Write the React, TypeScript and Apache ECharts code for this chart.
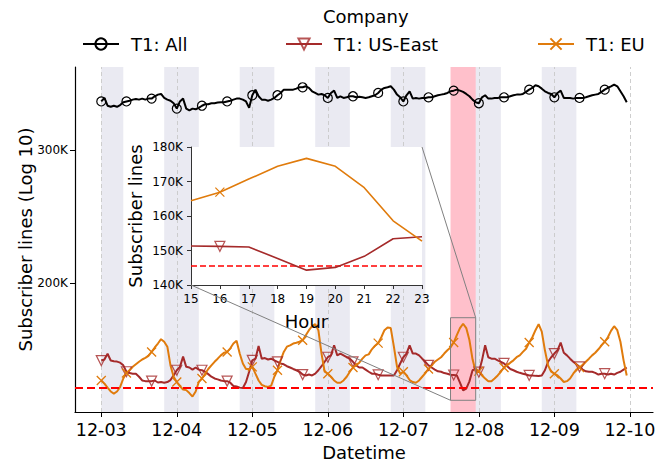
import React, { useEffect, useRef } from "react";
import * as echarts from "echarts";

// ---------- data ----------
const dayLabels = ["12-03", "12-04", "12-05", "12-06", "12-07", "12-08", "12-09", "12-10"];
const hoursPerDay = 24;

// hourly values (thousands of subscriber lines), starting 12-03 00:00
const allK = [
  347.6, 351.3, 343.1, 342.0, 343.1, 342.0, 343.8, 346.8,
  347.6, 348.4, 349.5, 350.2, 349.5, 350.6, 349.5, 350.6,
  350.6, 353.1, 354.9, 355.6, 351.3, 349.5, 348.4, 345.7,
  340.1, 347.6, 350.6, 340.1, 338.3, 340.1, 339.4, 340.9,
  343.1, 344.6, 344.6, 345.7, 345.7, 346.4, 346.8, 346.8,
  347.6, 348.4, 349.5, 350.6, 350.6, 349.5, 347.6, 340.9,
  354.2, 360.3, 353.1, 349.5, 349.5, 348.4, 349.5, 351.3,
  354.2, 356.7, 360.3, 360.3, 360.3, 360.3, 361.4, 362.9,
  362.9, 364.0, 362.2, 358.5, 356.7, 354.9, 355.6, 354.2,
  351.3, 356.7, 359.2, 351.3, 353.1, 351.3, 352.0, 353.1,
  353.1, 352.0, 352.7, 352.0, 351.3, 352.0, 353.1, 354.2,
  356.7, 360.3, 362.2, 362.9, 364.0, 360.3, 354.9, 352.0,
  347.6, 354.2, 358.5, 350.6, 351.3, 350.6, 351.3, 351.3,
  352.0, 352.0, 353.1, 354.2, 354.9, 355.6, 356.7, 358.5,
  359.2, 360.3, 359.2, 357.8, 355.6, 353.1, 349.5, 346.8,
  345.7, 352.0, 354.2, 350.6, 350.6, 351.3, 351.3, 352.0,
  352.0, 352.0, 353.1, 354.2, 354.9, 354.9, 355.6, 357.8,
  360.3, 362.2, 365.2, 364.0, 361.4, 358.5, 356.7, 355.6,
  352.0, 356.7, 359.2, 351.3, 351.3, 351.3, 350.6, 351.3,
  351.3, 351.3, 352.0, 353.1, 354.2, 354.9, 355.6, 357.8,
  360.3, 362.2, 364.0, 365.9, 364.0, 358.5, 353.1, 346.8,
];

const usEastK = [
  158.0, 158.5, 161.3, 158.0, 157.7, 157.5, 157.0, 155.7,
  152.7, 152.1, 151.8, 151.8, 150.4, 148.7, 148.4, 148.4,
  148.4, 148.7, 147.8, 148.0, 147.7, 148.0, 148.9, 151.0,
  153.4, 155.0, 159.9, 155.0, 154.7, 153.7, 154.7, 153.7,
  153.4, 152.7, 151.6, 150.4, 149.6, 149.2, 148.7, 148.4,
  148.4, 147.7, 146.2, 146.0, 145.5, 145.3, 148.0, 152.7,
  158.1, 158.9, 165.1, 158.9, 159.2, 158.5, 158.9, 158.1,
  157.4, 156.6, 156.2, 155.3, 154.7, 154.0, 153.4, 152.7,
  151.4, 151.0, 151.4, 151.0, 151.8, 153.4, 155.3, 157.4,
  159.6, 160.5, 165.5, 160.5, 161.4, 160.5, 159.6, 158.9,
  157.4, 155.7, 154.7, 154.7, 153.7, 152.7, 151.8, 151.8,
  151.3, 151.0, 151.0, 151.0, 151.0, 151.0, 153.4, 156.6,
  159.6, 161.4, 165.5, 161.4, 161.4, 160.5, 158.9, 157.4,
  155.7, 154.7, 153.7, 152.9, 152.7, 152.1, 151.8, 151.3,
  151.2, 151.0, 147.7, 144.3, 145.1, 148.3, 153.4, 154.0,
  152.5, 158.1, 165.5, 159.6, 158.9, 158.9, 158.1, 157.4,
  156.6, 155.3, 154.0, 153.4, 152.7, 152.2, 151.8, 151.4,
  151.0, 151.0, 150.8, 150.7, 151.0, 153.4, 157.4, 159.6,
  161.4, 163.0, 166.9, 161.8, 160.5, 158.9, 157.4, 156.2,
  155.0, 153.7, 152.9, 152.7, 152.7, 152.2, 151.4, 151.8,
  151.8, 151.4, 151.8, 151.4, 152.2, 152.7, 153.7, 154.7,
];

const euK = [
  148.7, 147.3, 145.5, 143.8, 142.9, 143.8, 145.8, 149.6,
  152.1, 153.4, 155.0, 156.2, 157.4, 158.5, 159.3, 160.3,
  162.2, 164.4, 166.4, 168.6, 167.3, 164.8, 155.7, 150.4,
  148.0, 146.1, 144.7, 144.4, 143.1, 141.6, 143.8, 148.0,
  149.6, 151.8, 154.0, 155.7, 157.4, 158.9, 160.5, 161.8,
  162.2, 164.0, 166.4, 167.8, 161.4, 156.6, 154.0, 154.0,
  155.0, 151.8, 148.7, 146.7, 146.1, 145.8, 146.4, 150.4,
  153.4, 158.1, 162.2, 164.8, 165.5, 166.4, 166.8, 167.3,
  168.1, 170.6, 173.3, 175.4, 176.5, 173.3, 161.4, 152.7,
  151.8, 150.4, 148.7, 147.7, 147.7, 148.7, 150.4, 152.7,
  154.7, 155.7, 157.0, 158.9, 160.5, 161.0, 163.5, 165.3,
  166.6, 169.6, 173.3, 174.7, 174.4, 164.8, 155.0, 151.8,
  152.7, 151.0, 148.9, 148.0, 147.7, 148.7, 150.4, 152.1,
  154.0, 155.7, 157.4, 158.5, 159.6, 161.4, 163.0, 164.4,
  166.9, 170.7, 174.4, 176.7, 174.4, 168.2, 158.6, 152.7,
  153.0, 151.0, 149.6, 148.4, 148.4, 149.6, 151.0, 152.7,
  154.7, 155.7, 157.0, 158.1, 159.6, 160.5, 162.2, 163.8,
  166.9, 169.6, 173.3, 176.5, 172.5, 163.0, 155.7, 152.7,
  151.8, 151.0, 149.6, 148.0, 148.4, 149.6, 151.8, 153.7,
  154.7, 155.7, 157.4, 158.9, 160.5, 161.8, 163.5, 165.5,
  167.3, 169.6, 172.9, 175.4, 173.3, 167.3, 158.1, 151.0,
];

const thresholdK = 145.6;
const nightStarts = [0, 20, 44, 68, 92, 116, 140];
const nightEnds = [7, 31, 55, 79, 103, 127, 151];
const zoomStartHour = 111;
const zoomEndHour = 119;
const zoomLowK = 140;
const zoomHighK = 180;
const mainYTicksK = [200, 300];
const markerEvery = 8;

// ---------- styling ----------
const FONT = "DejaVu Sans";
const C_ALL = "#000000";
const C_US = "#a52a2a";
const C_EU = "#e07b0c";
const SYM_DOWN = "path://M0,0L10,0L5,8.66Z";
const SYM_X = "path://M0,0L10,10M10,0L0,10";

const K = (v: number) => v * 1000;

export default function App() {
  const ref = useRef<HTMLDivElement>(null);

  useEffect(() => {
    if (!ref.current) return;
    const chart = echarts.init(ref.current, null, { renderer: "svg" });

    const hours = allK.map((_, i) => i);
    const dayTicks = dayLabels.map((_, i) => i * hoursPerDay);
    const insetIdx: number[] = [];
    for (let h = zoomStartHour; h <= zoomEndHour; h++) insetIdx.push(h);

    const mainSym = (size: number) => (_v: any, p: any) =>
      p.dataIndex % markerEvery === 0 ? size : 0;
    const insetSym = (size: number) => (_v: any, p: any) =>
      (insetIdx[p.dataIndex] % markerEvery === 0 ? size : 0);

    const legendBase = {
      top: 35,
      padding: 0,
      itemWidth: 36,
      itemHeight: 14,
      selectedMode: false,
      textStyle: { fontSize: 18, color: "#000", fontFamily: FONT, padding: [0, 0, 0, 7] },
    };

    const option: any = {
      animation: false,
      backgroundColor: "#fff",
      textStyle: { fontFamily: FONT },
      title: {
        text: "Company",
        left: 323,
        top: 7,
        padding: 0,
        textStyle: { fontSize: 18, fontWeight: "normal", color: "#000", fontFamily: FONT },
      },
      legend: [
        { ...legendBase, left: 82, data: ["T1: All"] },
        { ...legendBase, left: 285, data: ["T1: US-East"] },
        { ...legendBase, left: 537, data: ["T1: EU"] },
      ],
      grid: [
        {
          left: 75,
          top: 67,
          width: 578,
          height: 345,
          show: false,
          containLabel: false,
          outerBoundsMode: "none",
        },
        {
          left: 191,
          top: 147,
          width: 231,
          height: 138,
          show: true,
          backgroundColor: "#ffffff",
          borderWidth: 0,
          z: 6,
          containLabel: false,
          outerBoundsMode: "none",
        },
      ],
      xAxis: [
        {
          gridIndex: 0,
          type: "value",
          min: -8.35,
          max: 175.35,
          splitLine: { show: false },
          axisLine: { show: true, onZero: false, lineStyle: { color: "#000", width: 1.2 } },
          axisTick: {
            show: true,
            customValues: dayTicks,
            length: 5,
            lineStyle: { color: "#000", width: 1 },
          },
          axisLabel: {
            customValues: dayTicks,
            formatter: (v: number) => dayLabels[Math.round(v / hoursPerDay)] ?? "",
            fontSize: 17.5,
            color: "#000",
            margin: 9,
            fontFamily: FONT,
          },
          name: "Datetime",
          nameLocation: "middle",
          nameGap: 31,
          nameMoveOverlap: false,
          nameTextStyle: { fontSize: 18, color: "#000", fontFamily: FONT },
        },
        {
          gridIndex: 1,
          type: "value",
          min: 15,
          max: 23,
          interval: 1,
          z: 7,
          splitLine: { show: false },
          axisLine: { show: true, onZero: false, lineStyle: { color: "#333", width: 1 } },
          axisTick: { show: true, length: 4, lineStyle: { color: "#333" } },
          axisLabel: { fontSize: 12, color: "#000", margin: 8, fontFamily: FONT },
          name: "Hour",
          nameLocation: "middle",
          nameGap: 27,
          nameMoveOverlap: false,
          nameTextStyle: { fontSize: 18, color: "#000", fontFamily: FONT },
        },
      ],
      yAxis: [
        {
          gridIndex: 0,
          type: "log",
          logBase: 10,
          min: 135100,
          max: 386000,
          splitLine: { show: false },
          minorTick: { show: false },
          axisLine: { show: true, onZero: false, lineStyle: { color: "#000", width: 1.2 } },
          axisTick: {
            show: true,
            customValues: mainYTicksK.map(K),
            length: 5,
            lineStyle: { color: "#000" },
          },
          axisLabel: {
            customValues: mainYTicksK.map(K),
            formatter: (v: number) => `${Math.round(v / 1000)}K`,
            fontSize: 12,
            color: "#000",
            margin: 7,
            fontFamily: FONT,
          },
          name: "Subscriber lines (Log 10)",
          nameLocation: "middle",
          nameGap: 41,
          nameMoveOverlap: false,
          nameTextStyle: { fontSize: 18, color: "#000", fontFamily: FONT },
        },
        {
          gridIndex: 1,
          type: "value",
          min: K(zoomLowK),
          max: K(zoomHighK),
          interval: 10000,
          z: 7,
          splitLine: { show: false },
          axisLine: { show: true, onZero: false, lineStyle: { color: "#333", width: 1 } },
          axisTick: { show: true, length: 4, lineStyle: { color: "#333" } },
          axisLabel: {
            formatter: (v: number) => `${Math.round(v / 1000)}K`,
            fontSize: 12,
            color: "#000",
            margin: 8,
            fontFamily: FONT,
          },
          name: "Subscriber lines",
          nameLocation: "middle",
          nameGap: 47,
          nameMoveOverlap: false,
          nameTextStyle: { fontSize: 18, color: "#000", fontFamily: FONT },
        },
      ],
      series: [
        {
          name: "T1: All",
          type: "line",
          xAxisIndex: 0,
          yAxisIndex: 0,
          data: hours.map((h) => [h, K(allK[h])]),
          symbol: "circle",
          symbolSize: mainSym(9),
          showAllSymbol: true,
          itemStyle: { color: "rgba(0,0,0,0)", borderColor: C_ALL, borderWidth: 1.2 },
          lineStyle: { color: C_ALL, width: 2 },
          z: 4,
          silent: true,
          markArea: {
            z: 1,
            silent: true,
            itemStyle: { color: "#eaeaf2" },
            data: nightStarts.map((s, i) => [{ xAxis: s }, { xAxis: nightEnds[i] }]),
          },
          markLine: {
            z: 3,
            silent: true,
            symbol: ["none", "none"],
            label: { show: false },
            lineStyle: { type: [4, 3], color: "#c8c8c8", width: 0.9 },
            data: dayTicks.map((d) => ({ xAxis: d })),
          },
        },
        {
          name: "T1: US-East",
          type: "line",
          xAxisIndex: 0,
          yAxisIndex: 0,
          data: hours.map((h) => [h, K(usEastK[h])]),
          symbol: SYM_DOWN,
          symbolSize: mainSym(10),
          showAllSymbol: true,
          itemStyle: { color: "rgba(0,0,0,0)", borderColor: "rgba(165,42,42,0.8)", borderWidth: 1.2 },
          lineStyle: { color: C_US, width: 2 },
          z: 4,
          silent: true,
          markArea: {
            z: 2,
            silent: true,
            itemStyle: { color: "#ffc0cb" },
            data: [[{ xAxis: zoomStartHour }, { xAxis: zoomEndHour }]],
          },
        },
        {
          name: "T1: EU",
          type: "line",
          xAxisIndex: 0,
          yAxisIndex: 0,
          data: hours.map((h) => [h, K(euK[h])]),
          symbol: SYM_X,
          symbolSize: mainSym(9),
          showAllSymbol: true,
          itemStyle: { color: "rgba(0,0,0,0)", borderColor: C_EU, borderWidth: 1.3 },
          lineStyle: { color: C_EU, width: 2 },
          z: 4,
          silent: true,
          markLine: {
            z: 5,
            silent: true,
            symbol: ["none", "none"],
            label: { show: false },
            lineStyle: { type: [8, 4], color: "#ff0000", width: 2 },
            data: [{ yAxis: K(thresholdK) }],
          },
          markArea: {
            z: 5,
            silent: true,
            itemStyle: { color: "rgba(0,0,0,0)", borderColor: "#808080", borderWidth: 1 },
            data: [[
              { xAxis: zoomStartHour, yAxis: K(zoomLowK) },
              { xAxis: zoomEndHour, yAxis: K(zoomHighK) },
            ]],
          },
        },
        {
          name: "inset US-East",
          type: "line",
          xAxisIndex: 1,
          yAxisIndex: 1,
          data: insetIdx.map((h) => [h % hoursPerDay, K(usEastK[h])]),
          symbol: SYM_DOWN,
          symbolSize: insetSym(10),
          showAllSymbol: true,
          itemStyle: { color: "rgba(0,0,0,0)", borderColor: "rgba(165,42,42,0.8)", borderWidth: 1.2 },
          lineStyle: { color: C_US, width: 1.6 },
          z: 8,
          silent: true,
          markLine: {
            z: 8,
            silent: true,
            symbol: ["none", "none"],
            label: { show: false },
            lineStyle: { type: [6, 3], color: "#ff0000", width: 1.6 },
            data: [{ yAxis: K(thresholdK) }],
          },
        },
        {
          name: "inset EU",
          type: "line",
          xAxisIndex: 1,
          yAxisIndex: 1,
          data: insetIdx.map((h) => [h % hoursPerDay, K(euK[h])]),
          symbol: SYM_X,
          symbolSize: insetSym(9),
          showAllSymbol: true,
          itemStyle: { color: "rgba(0,0,0,0)", borderColor: C_EU, borderWidth: 1.2 },
          lineStyle: { color: C_EU, width: 1.6 },
          z: 8,
          silent: true,
        },
      ],
    };

    chart.setOption(option);

    // connector lines between the zoom rectangle and the inset
    const insetTR = chart.convertToPixel({ gridIndex: 1 }, [23, K(zoomHighK)]) as number[];
    const mainTR = chart.convertToPixel({ gridIndex: 0 }, [zoomEndHour, K(zoomHighK)]) as number[];
    const insetBL = chart.convertToPixel({ gridIndex: 1 }, [15, K(zoomLowK)]) as number[];
    const mainBL = chart.convertToPixel({ gridIndex: 0 }, [zoomStartHour, K(zoomLowK)]) as number[];
    if (insetTR && mainTR && insetBL && mainBL) {
      chart.setOption({
        graphic: [
          {
            type: "line",
            z: 9,
            silent: true,
            shape: { x1: insetTR[0], y1: insetTR[1], x2: mainTR[0], y2: mainTR[1] },
            style: { stroke: "#808080", lineWidth: 1 },
          },
          {
            type: "line",
            z: 9,
            silent: true,
            shape: { x1: insetBL[0], y1: insetBL[1], x2: mainBL[0], y2: mainBL[1] },
            style: { stroke: "#808080", lineWidth: 1 },
          },
        ],
      });
    }

    return () => chart.dispose();
  }, []);

  return (
    <div
      ref={ref}
      style={{ position: "absolute", left: 0, top: 0, width: 669, height: 462, background: "#fff" }}
    />
  );
}
